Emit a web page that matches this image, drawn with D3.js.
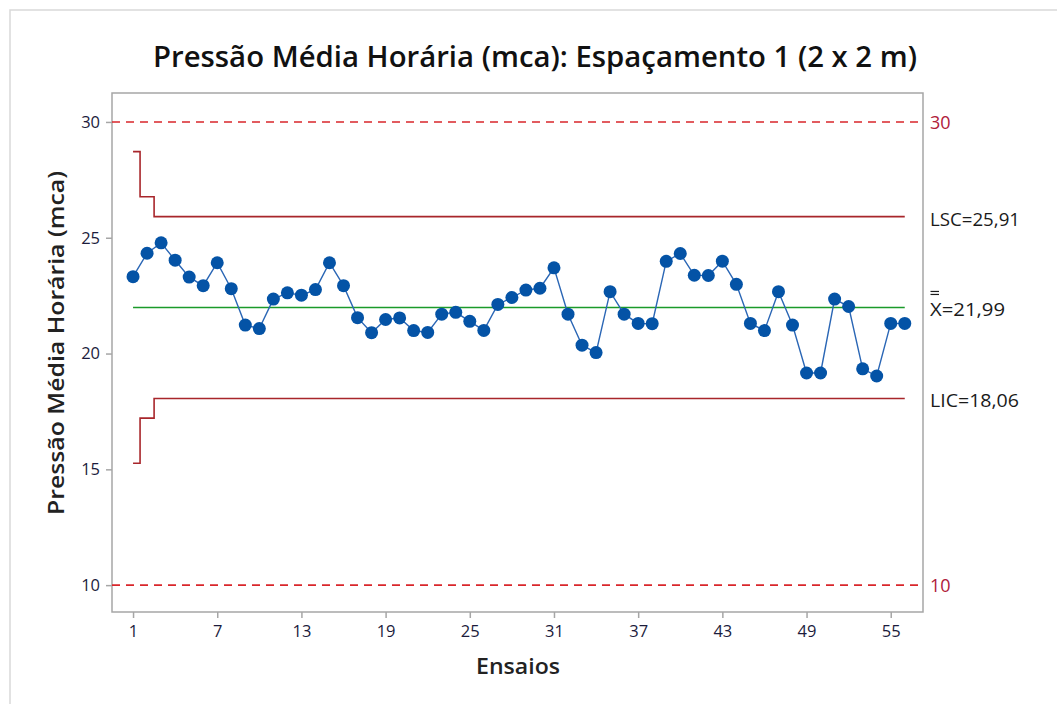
<!DOCTYPE html>
<html lang="pt">
<head>
<meta charset="utf-8">
<title>Carta de controle</title>
<script src="https://d3js.org/d3.v7.min.js"></script>
<style>
    body { margin: 0; background: #fff; font-family: "Open Sans", "Noto Sans", sans-serif; }
</style>
</head>
<body>
<svg id="chart" width="1057" height="704"></svg>
<script>
// valores
const ensaios = d3.range(1, 57);
const pressao = [
    23.32, 24.33, 24.78, 24.03, 23.30, 22.93, 23.92, 22.80, 21.23, 21.08,
    22.35, 22.62, 22.52, 22.76, 23.92, 22.93, 21.55, 20.90, 21.47, 21.54,
    20.99, 20.91, 21.70, 21.78, 21.39, 21.00, 22.12, 22.42, 22.74, 22.82,
    23.70, 21.70, 20.36, 20.04, 22.67, 21.70, 21.30, 21.29, 23.98, 24.32,
    23.38, 23.37, 23.99, 22.99, 21.30, 20.99, 22.67, 21.23, 19.16, 19.16,
    22.35, 22.03, 19.34, 19.03, 21.30, 21.30
];
const media = 21.99;
const lscPassos = [28.72, 26.77, 25.91];   // limite superior nos ensaios 1, 2, 3+
const licPassos = [15.26, 17.21, 18.06];   // limite inferior nos ensaios 1, 2, 3+
const especificacao = [30, 10];
const yTicks = [10, 15, 20, 25, 30];
const xTicks = [1, 7, 13, 19, 25, 31, 37, 43, 49, 55];

const svg = d3.select("#chart");
const m = { left: 112, right: 923, top: 93, bottom: 612 };

// moldura externa clara
svg.append("rect")
    .attr("x", 10).attr("y", 10)
    .attr("width", 1100).attr("height", 800)
    .attr("fill", "none").attr("stroke", "#d9d9d9").attr("stroke-width", 1.5);

const x = d3.scaleLinear().domain([-0.5, 57.3]).range([m.left, m.right]);
const y = d3.scaleLinear().domain([8.84, 31.25]).range([m.bottom, m.top]);

svg.append("text")
    .attr("x", 535).attr("y", 67)
    .attr("text-anchor", "middle")
    .attr("textLength", 764).attr("lengthAdjust", "spacingAndGlyphs")
    .style("font-size", "29px").style("font-weight", 600).style("fill", "#111")
    .text("Pressão Média Horária (mca): Espaçamento 1 (2 x 2 m)");

// eixos
const xAxis = svg.append("g")
    .attr("transform", `translate(0,${m.bottom})`)
    .call(d3.axisBottom(x).tickValues(xTicks).tickSize(6).tickPadding(7).tickSizeOuter(0));
const yAxis = svg.append("g")
    .attr("transform", `translate(${m.left},0)`)
    .call(d3.axisLeft(y).tickValues(yTicks).tickSize(6).tickPadding(6).tickSizeOuter(0));
[xAxis, yAxis].forEach(g => {
    g.select(".domain").remove();
    g.selectAll(".tick line").attr("stroke", "#a6a6a6").attr("stroke-width", 1.5);
    g.selectAll(".tick text")
        .style("font-family", "'Open Sans', sans-serif")
        .style("font-size", "16.5px")
        .attr("fill", "#1c1c3c");
});

svg.append("rect")
    .attr("x", m.left).attr("y", m.top)
    .attr("width", m.right - m.left).attr("height", m.bottom - m.top)
    .attr("fill", "none").attr("stroke", "#a6a6a6").attr("stroke-width", 1.5);

svg.append("text")
    .attr("x", 518).attr("y", 674)
    .attr("text-anchor", "middle")
    .attr("textLength", 84).attr("lengthAdjust", "spacingAndGlyphs")
    .style("font-size", "22px").style("font-weight", 600).style("fill", "#222")
    .text("Ensaios");

svg.append("text")
    .attr("transform", `translate(64,${343}) rotate(-90)`)
    .attr("text-anchor", "middle")
    .attr("textLength", 344).attr("lengthAdjust", "spacingAndGlyphs")
    .style("font-size", "22px").style("font-weight", 600).style("fill", "#222")
    .text("Pressão Média Horária (mca)");

// linhas de especificação
svg.selectAll(".espec")
    .data(especificacao)
    .join("line")
    .attr("x1", m.left).attr("x2", m.right)
    .attr("y1", d => y(d)).attr("y2", d => y(d))
    .attr("stroke", "#d9262b").attr("stroke-width", 1.6)
    .attr("stroke-dasharray", "8,6");

svg.selectAll(".espec-label")
    .data(especificacao)
    .join("text")
    .attr("x", m.right + 7).attr("y", d => y(d) + 7)
    .style("font-size", "18px").style("fill", "#b0203a")
    .text(d => d);

// limites de controle em degrau
function degraus(passos) {
    const pts = [[1, passos[0]], [1.5, passos[0]], [1.5, passos[1]], [2.5, passos[1]], [2.5, passos[2]], [56, passos[2]]];
    return d3.line().x(d => x(d[0])).y(d => y(d[1]))(pts);
}
svg.append("path").attr("d", degraus(lscPassos))
    .attr("fill", "none").attr("stroke", "#a8262b").attr("stroke-width", 1.6);
svg.append("path").attr("d", degraus(licPassos))
    .attr("fill", "none").attr("stroke", "#a8262b").attr("stroke-width", 1.6);

svg.append("line")
    .attr("x1", x(1)).attr("x2", x(56))
    .attr("y1", y(media)).attr("y2", y(media))
    .attr("stroke", "#1b9a2a").attr("stroke-width", 1.6);

// rótulos dos limites
const rotulos = [
    { v: lscPassos[2], t: "LSC=25,91", w: 90 },
    { v: media, t: "X=21,99", w: 75 },
    { v: licPassos[2], t: "LIC=18,06", w: 89 }
];
svg.selectAll(".lim-label")
    .data(rotulos)
    .join("text")
    .attr("x", m.right + 7).attr("y", d => y(d.v) + 9)
    .attr("textLength", d => d.w).attr("lengthAdjust", "spacingAndGlyphs")
    .style("font-size", "18px").style("fill", "#1a1a1a")
    .text(d => d.t);
// barra dupla sobre o X
[0, 3].forEach(dy => {
    svg.append("line")
        .attr("x1", m.right + 7.5).attr("x2", m.right + 16)
        .attr("y1", y(media) - 16 + dy).attr("y2", y(media) - 16 + dy)
        .attr("stroke", "#1a1a1a").attr("stroke-width", 1.2);
});

// série
const serie = ensaios.map((e, i) => [e, pressao[i]]);
svg.append("path")
    .datum(serie)
    .attr("d", d3.line().x(d => x(d[0])).y(d => y(d[1])))
    .attr("fill", "none").attr("stroke", "#2a66b5").attr("stroke-width", 1.4);

svg.selectAll(".ponto")
    .data(serie)
    .join("circle")
    .attr("cx", d => x(d[0])).attr("cy", d => y(d[1]))
    .attr("r", 6.5)
    .attr("fill", "#0453a6");
</script>
</body>
</html>
